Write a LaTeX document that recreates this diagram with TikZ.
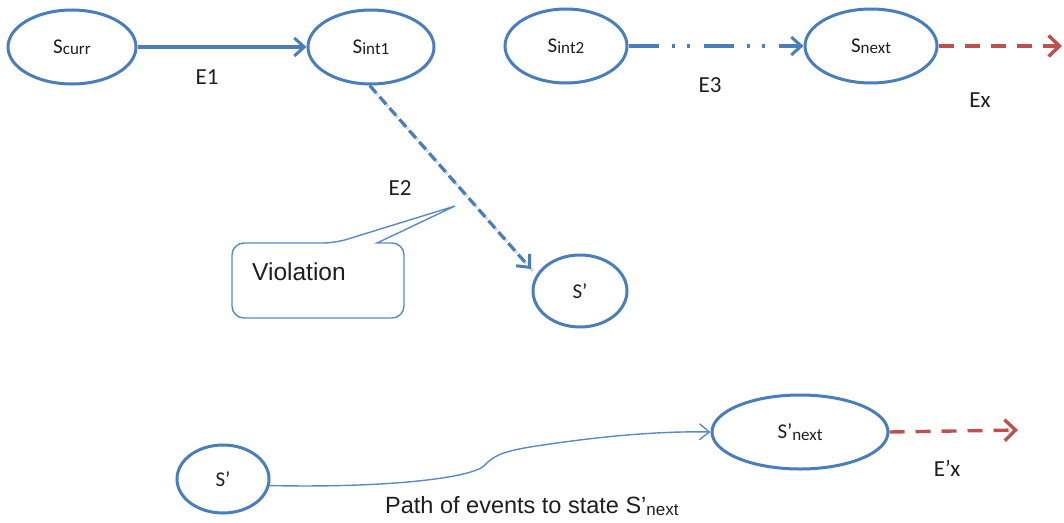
\documentclass[tikz,border=0pt]{standalone}
\usepackage{fontspec}
\setmainfont{Carlito}
\newfontfamily\notefont{Liberation Sans}
\usetikzlibrary{shapes.geometric,arrows.meta}
\definecolor{stateblue}{HTML}{4A7EBB}
\definecolor{calloutblue}{HTML}{5A8AC6}
\definecolor{eventred}{HTML}{C0504D}
\definecolor{ink}{HTML}{1E1E1E}
% state name with a lowered, smaller suffix
\newcommand{\stsub}[1]{{\fontsize{17}{19}\selectfont\raisebox{-1.5pt}{#1}}}
\newcommand{\notesub}[1]{{\fontsize{17}{19}\selectfont\raisebox{-2pt}{#1}}}
\tikzset{
  state/.style={ellipse, draw=stateblue, line width=3pt, inner sep=0pt,
    text=ink, font=\fontsize{21}{24}\selectfont},
  lbl/.style={text=ink, font=\fontsize{23}{26}\selectfont, inner sep=0pt},
  note/.style={text=ink, font=\notefont\fontsize{23.5}{26}\selectfont, inner sep=0pt},
  solidev/.style={draw=stateblue, line width=3.2pt,
    -{Straight Barb[length=10pt,width=18pt,line width=3pt]}},
  dashev/.style={draw=stateblue, line width=3.2pt, dash pattern=on 10pt off 5pt,
    -{Straight Barb[length=10pt,width=18pt,line width=3pt]}},
  dotev/.style={draw=stateblue, line width=3.2pt,
    dash pattern=on 30pt off 13pt on 3pt off 12pt on 3pt off 14pt,
    -{Straight Barb[length=10pt,width=18pt,line width=3pt]}},
  redev/.style={draw=eventred, line width=3.4pt, dash pattern=on 15pt off 11pt,
    -{Straight Barb[length=11pt,width=21pt,line width=3.4pt]}},
  pathev/.style={draw=calloutblue, line width=1.4pt,
    -{Straight Barb[length=10pt,width=16pt,line width=1.4pt]}},
}
\begin{document}
\begin{tikzpicture}[x=1pt,y=-1pt]
\useasboundingbox (0,0) rectangle (1064,522);

% top row of states
\node[state, minimum width=128pt, minimum height=74pt] (scurr) at (72,47) {S\stsub{curr}};
\node[state, minimum width=126pt, minimum height=74pt] (sint1) at (371,47) {S\stsub{int1}};
\node[state, minimum width=122pt, minimum height=74pt] (sint2) at (566,46) {S\stsub{int2}};
\node[state, minimum width=132pt, minimum height=74pt] (snext) at (871,46) {S\stsub{next}};

% violating branch
\node[state, minimum width=94pt, minimum height=72pt] (sp) at (580,291) {S’};
\coordinate (e2end) at (531,269);
\coordinate (exend) at (1062,46);

% bottom row
\node[state, minimum width=92pt, minimum height=68pt] (sp2) at (223,479) {S’};
\node[state, minimum width=176pt, minimum height=74pt] (spnext) at (800,432) {S’\stsub{next}};
\coordinate (exend2) at (1018,430);

% events
\draw[solidev] (scurr.east) -- (sint1.west);
\draw[dotev] (sint2.east) -- (snext.west);
\draw[redev] (snext.east) -- (exend);
\draw[black!25, line width=3pt, dash pattern=on 10pt off 5pt, opacity=0.6]
  ([shift={(2,2)}]sint1.-92) -- ([shift={(2,2)}]e2end);
\draw[dashev] (sint1.-92) -- (e2end);
\draw[redev] (spnext.east) -- (exend2);
\draw[pathev] (sp2.-8) .. controls (380,488) and (468,479) .. (484,466)
  .. controls (492,457) and (500,452) .. (530,447)
  .. controls (600,436) and (660,431) .. (spnext.west);

% event labels
\node[lbl] (le1) at (207,77) {E1};
\node[lbl] (le3) at (710,85) {E3};
\node[lbl] (lex) at (980,100) {Ex};
\node[lbl] (le2) at (400,188) {E2};
\node[lbl] (lepx) at (947,468) {E’x};
\node[note, anchor=west] (lpath) at (385,506) {Path of events to state S’\notesub{next}};

% callout
\draw[calloutblue, line width=1.4pt, fill=white, rounded corners=12pt]
  (232,280) -- (232,243) -- (335,243) [sharp corners] -- (455,206) -- (377,243)
  [rounded corners=12pt] -- (404,243) -- (404,318) -- (232,318) -- cycle;
\node[note, font=\notefont\fontsize{24.5}{27}\selectfont, anchor=west] (lviol) at (252,272) {Violation};
\end{tikzpicture}
\end{document}
